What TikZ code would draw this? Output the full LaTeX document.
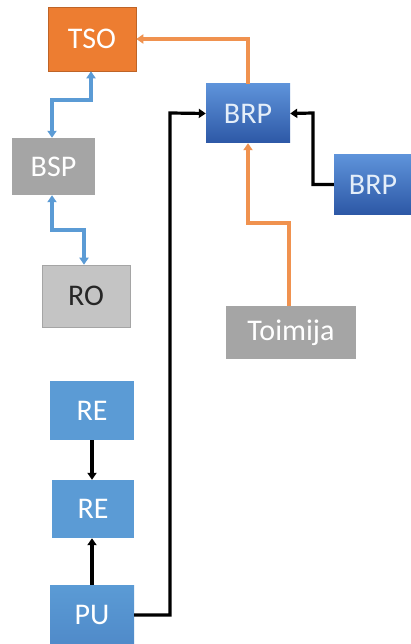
\documentclass[tikz,border=0pt]{standalone}
\usepackage{fontspec}
\setmainfont{Carlito}
\usetikzlibrary{arrows.meta}
\definecolor{orangeA}{HTML}{ED7D31}
\definecolor{orangeL}{HTML}{F0924F}
\definecolor{grayA}{HTML}{A5A5A5}
\definecolor{grayB}{HTML}{C4C4C4}
\definecolor{blueA}{HTML}{5B9BD5}
\definecolor{blueTop}{HTML}{5E93DA}
\definecolor{blueBot}{HTML}{2D58A6}
\definecolor{txtlight}{HTML}{E4EEF9}
\tikzset{
  box/.style={rectangle, inner sep=0pt, font=\fontsize{30}{32}\selectfont, text=white},
  tsobox/.style={box, fill=orangeA, draw=orangeA!80!black, line width=0.6pt},
  graybox/.style={box, fill=grayA},
  robox/.style={box, fill=grayB, draw=grayA, line width=0.6pt, text=black!85},
  rebox/.style={box, fill=blueA},
  brpbox/.style={box, top color=blueTop, bottom color=blueBot, text=txtlight},
  pubox/.style={box, top color=blueA, bottom color=blueA!75!blueBot},
  bluearr/.style={line width=3.2pt, blueA, {Triangle[length=7pt,width=9pt]}-{Triangle[length=7pt,width=9pt]}},
  orangearr/.style={line width=3.2pt, orangeL, -{Triangle[length=7pt,width=9pt]}},
  blackarr/.style={line width=3.2pt, black, -{Triangle[length=7pt,width=9pt]}}
}
\begin{document}
\begin{tikzpicture}[x=1pt,y=-1pt]
\useasboundingbox[fill=white] (0,0) rectangle (410,644);
\node[tsobox, minimum width=88pt, minimum height=64pt] (tso) at (92,39) {TSO};
\node[graybox, minimum width=83pt, minimum height=57pt] (bsp) at (53.5,166.5) {BSP};
\node[robox, minimum width=88pt, minimum height=62pt] (ro) at (86,296) {RO};
\node[rebox, minimum width=84pt, minimum height=59pt] (re1) at (92,410.5) {RE};
\node[rebox, minimum width=82pt, minimum height=58pt] (re2) at (93,509) {RE};
\node[pubox, minimum width=84pt, minimum height=60pt] (pu) at (92,615) {PU};
\node[brpbox, minimum width=84pt, minimum height=59pt] (brp1) at (248,113.5) {BRP};
\node[brpbox, minimum width=78pt, minimum height=59pt] (brp2) at (373,184.5) {BRP};
\node[graybox, minimum width=130pt, minimum height=53pt] (toim) at (291,332.5) {Toimija};
% blue double arrows
\draw[bluearr] (tso.south -| 91,0) -- (91,100) -- (52,100) -- (bsp.north -| 52,0);
\draw[bluearr] (bsp.south -| 52,0) -- (52,230) -- (84,230) -- (ro.north -| 84,0);
% orange
\draw[orangearr] (brp1.north) -- (248,39) -- (tso.east);
\draw[orangearr] (toim.north -| 289,0) -- (289,223) -- (248,223) -- (brp1.south);
% black
\draw[blackarr] (pu.east) -- (170,615) -- (170,113) -- (brp1.west);
\draw[blackarr] (brp2.west) -- (313,184.5) -- (313,113) -- (brp1.east);
\draw[blackarr] (re1.south -| 92,0) -- (re2.north -| 92,0);
\draw[blackarr] (pu.north -| 92,0) -- (re2.south -| 92,0);
\end{tikzpicture}
\end{document}
